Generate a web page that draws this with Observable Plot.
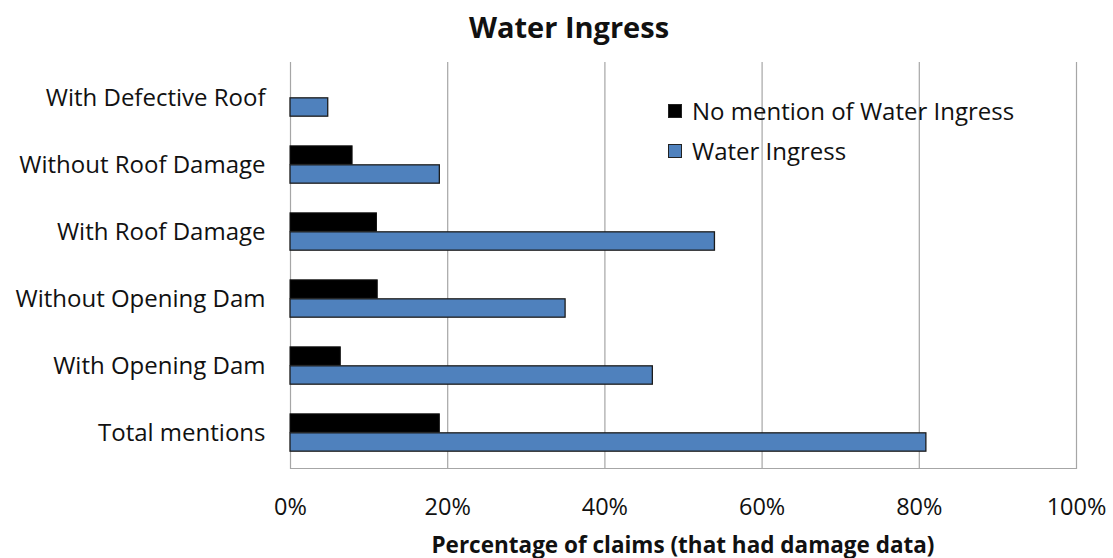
<!DOCTYPE html>
<html>
<head>
<meta charset="utf-8">
<script src="https://cdn.jsdelivr.net/npm/d3@7"></script>
<script src="https://cdn.jsdelivr.net/npm/@observablehq/plot@0.6"></script>
<style>
  html, body { margin: 0; padding: 0; background: #fff; }
  #wrap { position: relative; width: 1113px; height: 558px; font-family: "Open Sans", Lato, sans-serif; color: #111; }
  #title { position: absolute; left: 0; width: 1138px; top: 7px; text-align: center; font-weight: bold; font-size: 29px; line-height: 40px; }
  #chart { position: absolute; left: 0; top: 56px; }
  #xlabel { position: absolute; left: 290px; width: 786px; top: 529px; text-align: center; font-weight: bold; font-size: 22.5px; line-height: 32px; }
  .leg { position: absolute; left: 668px; font-size: 24px; line-height: 30px; display: flex; align-items: center; }
  .sw { width: 14px; height: 14px; box-sizing: border-box; border: 1px solid #222; margin-right: 10px; }
</style>
</head>
<body>
<div id="wrap">
  <div id="title">Water Ingress</div>
  <div id="chart"></div>
  <div id="xlabel">Percentage of claims (that had damage data)</div>
  <div id="legend"></div>
</div>
<script>
const categories = ["With Defective Roof", "Without Roof Damage", "With Roof Damage", "Without Opening Dam", "With Opening Dam", "Total mentions"];
const seriesNames = ["No mention of Water Ingress", "Water Ingress"];
const noMention = [0, 7.9, 11.0, 11.1, 6.4, 19.0];
const waterIngress = [4.8, 19.0, 54.0, 35.0, 46.1, 80.9];
const xTicks = [0, 20, 40, 60, 80, 100];
const colors = ["#000000", "#4f81bd"];

const W = 1113, H = 502, mt = 6, mb = 90;
const band = (H - mt - mb) / categories.length;
const barH = 19;

const noData = categories.map((c, i) => ({cat: c, value: noMention[i]})).filter(d => d.value > 0);
const wiData = categories.map((c, i) => ({cat: c, value: waterIngress[i]}));

const chart = Plot.plot({
  width: W, height: H,
  marginLeft: 290, marginRight: 37, marginTop: mt, marginBottom: mb,
  style: {fontFamily: "'Open Sans', Lato, sans-serif", color: "#111", background: "transparent"},
  x: {domain: [0, 100], label: null},
  y: {domain: categories, padding: 0, label: null},
  marks: [
    Plot.ruleX(xTicks, {stroke: "#a6a6a6", strokeWidth: 1.2}),
    Plot.frame({anchor: "bottom", stroke: "#a6a6a6", strokeWidth: 1.2}),
    Plot.barX(noData, {x: "value", y: "cat", fill: colors[0], stroke: "#111", strokeWidth: 1,
      insetTop: band / 2 - barH, insetBottom: band / 2}),
    Plot.barX(wiData, {x: "value", y: "cat", fill: colors[1], stroke: "#1c1c1c", strokeWidth: 1.3,
      insetTop: band / 2, insetBottom: band / 2 - barH}),
    Plot.axisX({ticks: xTicks, tickFormat: d => d + "%", tickSize: 0, tickPadding: 30, fontSize: 23.5, label: null}),
    Plot.axisY({tickSize: 0, tickPadding: 25, fontSize: 24, label: null})
  ]
});
document.getElementById("chart").appendChild(chart);

const legend = document.getElementById("legend");
seriesNames.forEach((s, i) => {
  const row = document.createElement("div");
  row.className = "leg";
  row.style.top = (96 + i * 40) + "px";
  const sw = document.createElement("div");
  sw.className = "sw";
  sw.style.background = colors[i];
  row.appendChild(sw);
  const t = document.createElement("span");
  t.textContent = s;
  row.appendChild(t);
  legend.appendChild(row);
});
</script>
</body>
</html>
